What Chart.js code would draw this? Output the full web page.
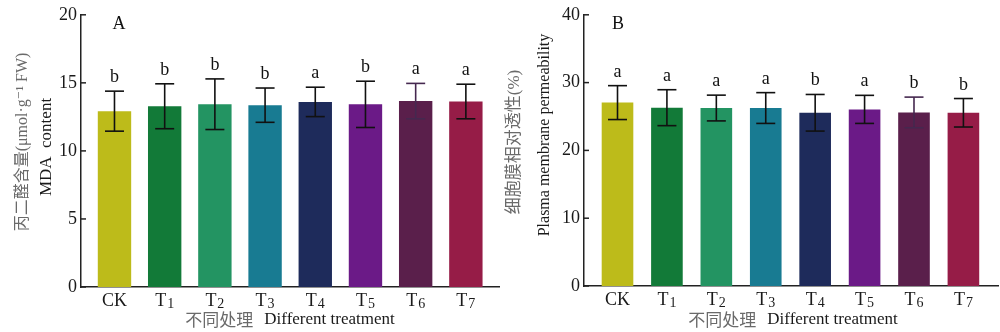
<!DOCTYPE html>
<html>
<head>
<meta charset="utf-8">
<script src="https://cdn.jsdelivr.net/npm/chart.js@4/dist/chart.umd.min.js"></script>
<style>
  html, body { margin: 0; padding: 0; background: #fff; }
  #wrap { position: relative; width: 1000px; height: 332px; }
  canvas { position: absolute; top: 0; }
</style>
</head>
<body>
<div id="wrap">
  <canvas id="mda" width="500" height="332" style="left:0"></canvas>
  <canvas id="pmp" width="500" height="332" style="left:500px"></canvas>
</div>
<script>
// treatments (trailing digit is drawn as a subscript) and bar colours
var categories = ["CK", "T1", "T2", "T3", "T4", "T5", "T6", "T7"];
var barColors = ["#bdbb1a", "#127a38", "#239462", "#187b92", "#1e2b5b", "#6b1a87", "#5a1f4b", "#961c47"];

// A: MDA content
var mdaMean = [12.92, 13.28, 13.43, 13.36, 13.60, 13.42, 13.66, 13.63];
var mdaSd = [1.47, 1.65, 1.86, 1.26, 1.08, 1.70, 1.30, 1.27];
var mdaLetters = ["b", "b", "b", "b", "a", "b", "a", "a"];
var mdaTicks = [0, 5, 10, 15, 20];

// B: plasma membrane permeability
var pmpMean = [27.05, 26.3, 26.25, 26.25, 25.55, 26.05, 25.6, 25.55];
var pmpSd = [2.5, 2.65, 1.9, 2.27, 2.7, 2.07, 2.26, 2.1];
var pmpLetters = ["a", "a", "a", "a", "b", "a", "b", "b"];
var pmpTicks = [0, 10, 20, 30, 40];

var errColors = ["#111", "#111", "#111", "#111", "#111", "#111", "#45284f", "#111"];

var serif = "'Liberation Serif', 'DejaVu Serif', serif";
var cjk = "'Noto Sans CJK SC', sans-serif";

function line(ctx, x1, y1, x2, y2) {
    ctx.beginPath();
    ctx.moveTo(x1, y1);
    ctx.lineTo(x2, y2);
    ctx.stroke();
}

var overlay = {
    id: "overlay",
    afterDatasetsDraw: function (chart, args, o) {
        var ctx = chart.ctx;
        var x = chart.scales.x;
        var y = chart.scales.y;
        var area = chart.chartArea;
        var meta = chart.getDatasetMeta(0);
        ctx.save();

        // small inward tick marks on the y axis
        ctx.strokeStyle = "#222";
        ctx.lineWidth = 1.5;
        o.ticks.forEach(function (v) {
            var py = y.getPixelForValue(v);
            line(ctx, area.left, py, area.left + 5, py);
        });

        // error bars + significance letters
        meta.data.forEach(function (bar, i) {
            var hi = y.getPixelForValue(o.mean[i] + o.sd[i]);
            var lo = y.getPixelForValue(o.mean[i] - o.sd[i]);
            ctx.strokeStyle = errColors[i];
            ctx.lineWidth = 1.6;
            line(ctx, bar.x, hi, bar.x, lo);
            line(ctx, bar.x - 9.5, hi, bar.x + 9.5, hi);
            line(ctx, bar.x - 9.5, lo, bar.x + 9.5, lo);

            ctx.fillStyle = "#111";
            ctx.font = "18px " + serif;
            ctx.textAlign = "center";
            ctx.textBaseline = "alphabetic";
            ctx.fillText(o.letters[i], bar.x, hi - 9);
        });

        // category labels with subscript digits
        ctx.textAlign = "left";
        ctx.textBaseline = "alphabetic";
        ctx.fillStyle = "#1a1a1a";
        categories.forEach(function (c, i) {
            var m = c.match(/^([A-Z]+)(\d*)$/);
            var main = m[1], sub = m[2];
            ctx.font = "18px " + serif;
            var w1 = ctx.measureText(main).width;
            ctx.font = "14px " + serif;
            var w2 = sub ? ctx.measureText(sub).width + 1 : 0;
            var px = x.getPixelForValue(i) - (w1 + w2) / 2;
            var base = area.bottom + 19;
            ctx.font = "18px " + serif;
            ctx.fillText(main, px, base);
            if (sub) {
                ctx.font = "14px " + serif;
                ctx.fillText(sub, px + w1 + 1, base + 2);
            }
        });

        // panel letter
        ctx.fillStyle = "#111";
        ctx.font = "18px " + serif;
        ctx.textAlign = "center";
        ctx.textBaseline = "middle";
        ctx.fillText(o.panel, area.left + o.panelDx, area.top + 9);

        // y titles (rotated)
        ctx.save();
        ctx.translate(o.yTitleCn.x, o.yTitleCn.y);
        ctx.rotate(-Math.PI / 2);
        ctx.fillStyle = "#6a6a6a";
        ctx.font = o.yTitleCn.size + "px " + serif + ", " + cjk;
        ctx.fillText(o.yTitleCn.text, 0, 0);
        ctx.restore();

        ctx.save();
        ctx.translate(o.yTitleEn.x, o.yTitleEn.y);
        ctx.rotate(-Math.PI / 2);
        ctx.fillStyle = "#1a1a1a";
        ctx.font = o.yTitleEn.size + "px " + serif;
        ctx.fillText(o.yTitleEn.text, 0, 0);
        ctx.restore();

        // x title: chinese grey, english dark
        var cx = o.xTitleX;
        var ty = 320;
        ctx.textAlign = "left";
        ctx.font = "17px " + cjk;
        var cn = "不同处理";
        var en = "Different treatment";
        var wCn = ctx.measureText(cn).width;
        ctx.font = "17px " + serif;
        var wEn = ctx.measureText(en).width;
        var gap = 11;
        var start = cx - (wCn + gap + wEn) / 2;
        ctx.fillStyle = "#6a6a6a";
        ctx.font = "17px " + cjk;
        ctx.fillText(cn, start, ty);
        ctx.fillStyle = "#1a1a1a";
        ctx.font = "17px " + serif;
        ctx.fillText(en, start + wCn + gap, ty);

        ctx.restore();
    }
};

function makeChart(id, mean, sd, letters, ticks, opts) {
    return new Chart(document.getElementById(id), {
        type: "bar",
        data: {
            datasets: [{
                data: mean.map(function (v, i) { return { x: i, y: v }; }),
                backgroundColor: barColors,
                borderWidth: 0,
                barPercentage: opts.barPct,
                categoryPercentage: 1
            }]
        },
        options: {
            responsive: false,
            animation: false,
            devicePixelRatio: 1,
            layout: { padding: { top: 12, right: opts.padRight, left: 0, bottom: 0 } },
            plugins: {
                legend: { display: false },
                tooltip: { enabled: false },
                overlay: {
                    mean: mean, sd: sd, letters: letters, ticks: ticks,
                    panel: opts.panel, panelDx: opts.panelDx,
                    yTitleCn: opts.yTitleCn, yTitleEn: opts.yTitleEn,
                    xTitleX: opts.xTitleX
                }
            },
            scales: {
                x: {
                    type: "linear",
                    offset: false,
                    min: opts.xMin,
                    max: opts.xMax,
                    afterBuildTicks: function (s) {
                        s.ticks = categories.map(function (c, i) { return { value: i }; });
                    },
                    afterFit: function (s) { s.height = opts.xHeight; },
                    grid: { display: false, drawTicks: false, offset: false },
                    border: { display: true, color: "#222", width: 1.5 },
                    ticks: { display: false }
                },
                y: {
                    min: ticks[0],
                    max: ticks[ticks.length - 1],
                    afterBuildTicks: function (s) {
                        s.ticks = ticks.map(function (v) { return { value: v }; });
                    },
                    afterFit: function (s) { s.width = opts.yWidth; },
                    grid: { display: false, drawTicks: false },
                    border: { display: true, color: "#222", width: 1.5 },
                    ticks: {
                        padding: 4,
                        color: "#1a1a1a",
                        font: { family: serif, size: 18 }
                    }
                }
            }
        },
        plugins: [overlay]
    });
}

makeChart("mda", mdaMean, mdaSd, mdaLetters, mdaTicks, {
    barPct: 0.665, xMin: -0.667, xMax: 7.68, xHeight: 45, yWidth: 81, padRight: 0,
    panel: "A", panelDx: 38, xTitleX: 290,
    yTitleCn: { text: "丙二醛含量(μmol·g\u207B\u00B9 FW)", x: 23, y: 142, size: 16 },
    yTitleEn: { text: "MDA  content", x: 47, y: 147, size: 17 }
});

makeChart("pmp", pmpMean, pmpSd, pmpLetters, pmpTicks, {
    barPct: 0.64, xMin: -0.678, xMax: 7.70, xHeight: 46, yWidth: 84, padRight: 2,
    panel: "B", panelDx: 34, xTitleX: 293,
    yTitleCn: { text: "细胞膜相对透性(%)", x: 15, y: 142, size: 17 },
    yTitleEn: { text: "Plasma membrane permeability", x: 45, y: 135, size: 16 }
});
</script>
</body>
</html>
